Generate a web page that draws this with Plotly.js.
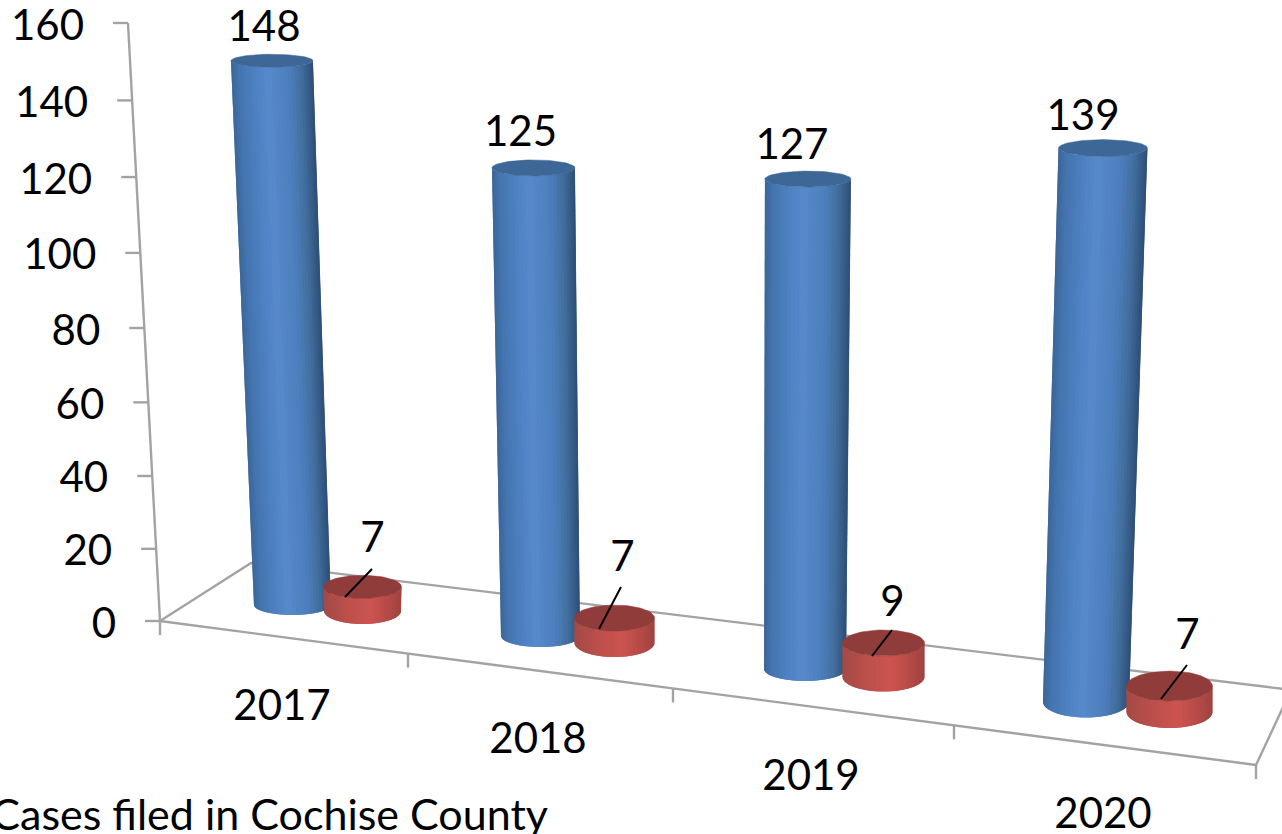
<!DOCTYPE html>
<html><head><meta charset="utf-8">
<script src="https://cdn.plot.ly/plotly-3.0.1.min.js"></script>
<style>html,body{margin:0;padding:0;background:#fff;overflow:hidden}#chart{width:1282px;height:834px}</style>
</head><body><div id="chart"></div>
<script>
// ---- data ----
const categories = ['2017', '2018', '2019', '2020'];
const seriesBlue = [148, 125, 127, 139];
const seriesRed = [7, 7, 9, 7];
const valueTicks = [0, 20, 40, 60, 80, 100, 120, 140, 160];
const chartTitle = 'Cases filed in Cochise County';

// ---- perspective geometry (pixels), separate from the data ----
const FONT = 'Lato, "Open Sans", sans-serif';
const FS = 42;
const wallBase = [160, 621], wallTop = [128, 23];
const floorFrontLeft = [160, 621], floorFrontRight = [1256, 765];
const floorBackLeft = [251, 563], floorBackRight = [1300, 691];
const catTicksX = [160, 408, 673, 954, 1256];
const catLabelPos = [[282, 709], [538, 742], [811, 779], [1103, 817]];
// base centre x,y ; lean ; height scale ; base rx,ry ; top rx,ry
const blueGeom = [
  {x:292.5,y:605,lean:-0.0377,k:0.987,r0:38.5,ry0:10,r1:41,ry1:6.5},
  {x:540.5,y:636,lean:-0.015,k:1.011,r0:39.5,ry0:11,r1:41.5,ry1:8},
  {x:805,y:669,lean:0.006,k:1.041,r0:41,ry0:12,r1:43,ry1:8},
  {x:1086,y:702,lean:0.0307,k:1.072,r0:43,ry0:15.5,r1:44.5,ry1:8.5}
];
const redGeom = [
  {x:362.5,y:611,lean:0,k:0.96,r0:38.5,ry0:13,r1:39,ry1:11.5},
  {x:614.5,y:643,lean:0,k:0.99,r0:40,ry0:14,r1:40,ry1:13},
  {x:883.5,y:677,lean:0,k:1.05,r0:41,ry0:14.5,r1:41,ry1:13},
  {x:1169.5,y:712,lean:0,k:1.03,r0:43,ry0:16,r1:43,ry1:15}
];
const blueLabelOff = [[-8,-30],[-13,-32],[-16,-31],[-20,-29]];
const redLabelOff = [[10,-45],[8,-58],[9,-38],[18,-48]];
const leaders = [[[372,569],[345,597]],[[621,587],[599,629]],[[892,630],[872,656]],[[1187,665],[1161,699]]];
const blueRamp = [[0,[59,102,152]],[.1,[68,117,176]],[.3,[79,130,196]],[.45,[87,137,203]],[.7,[77,127,189]],[.85,[66,110,158]],[1,[45,78,118]]];
const redRamp = [[0,[164,74,70]],[.3,[188,79,75]],[.6,[204,84,80]],[.8,[184,75,72]],[1,[158,68,65]]];
const blueTop = '#3d6796', redTop = '#8f3c3a', axisGrey = '#a3a3a3';

// axis perspective: pixels of height for a value
const sA = 3.59, sB = -0.000246;
const heightOf = v => sA * v / (1 + sB * v);
const wallAt = v => {
  const t = heightOf(v) / heightOf(160);
  return [wallBase[0] + (wallTop[0] - wallBase[0]) * t, wallBase[1] + (wallTop[1] - wallBase[1]) * t];
};
const ramp = (stops, u) => {
  for (let i = 1; i < stops.length; i++) if (u <= stops[i][0]) {
    const a = stops[i-1], b = stops[i], t = (u - a[0]) / (b[0] - a[0]);
    return 'rgb(' + a[1].map((c, j) => Math.round(c + (b[1][j] - c) * t)).join(',') + ')';
  }
  return 'rgb(' + stops[stops.length-1][1].join(',') + ')';
};

const traces = [];
function polyline(segments, color, width) {
  const x = [], y = [];
  segments.forEach(s => { s.forEach(p => { x.push(p[0]); y.push(p[1]); }); x.push(null); y.push(null); });
  traces.push({type:'scatter', mode:'lines', x, y, line:{color, width}, hoverinfo:'skip', showlegend:false});
}
function cylinder(value, g, stops, topColor) {
  const h = heightOf(value) * g.k;
  const tx = g.x + h * g.lean, ty = g.y - h;
  const N = 32;
  // painted right to left: each strip overlaps the next so no seam shows
  for (let j = 0; j < N; j++) {
    const a = Math.PI * j / N, b = Math.PI * Math.min(j + 2, N) / N;
    const m = Math.PI * (j + 0.5) / N;
    const x = [g.x + g.r0*Math.cos(a), g.x + g.r0*Math.cos((a+b)/2), g.x + g.r0*Math.cos(b), tx + g.r1*Math.cos(b), tx + g.r1*Math.cos((a+b)/2), tx + g.r1*Math.cos(a)];
    const y = [g.y + g.ry0*Math.sin(a), g.y + g.ry0*Math.sin((a+b)/2), g.y + g.ry0*Math.sin(b), ty + g.ry1*Math.sin(b), ty + g.ry1*Math.sin((a+b)/2), ty + g.ry1*Math.sin(a)];
    const u = (1 - Math.cos(m)) / 2;
    const c = ramp(stops, 1 - (1 - u));
    traces.push({type:'scatter', mode:'lines', x:x.concat(x[0]), y:y.concat(y[0]), fill:'toself', fillcolor:ramp(stops, 1 - u),
      line:{color:c, width:0}, hoverinfo:'skip', showlegend:false});
  }
  const ex = [], ey = [];
  for (let j = 0; j <= 72; j++) {
    const a = 2 * Math.PI * j / 72;
    ex.push(tx + g.r1*Math.cos(a)); ey.push(ty + g.ry1*Math.sin(a));
  }
  traces.push({type:'scatter', mode:'lines', x:ex, y:ey, fill:'toself', fillcolor:topColor,
    line:{color:topColor, width:0.5}, hoverinfo:'skip', showlegend:false});
  return [tx, ty];
}

// floor and walls
const frontAt = x => floorFrontLeft[1] + (floorFrontRight[1]-floorFrontLeft[1]) * (x-floorFrontLeft[0]) / (floorFrontRight[0]-floorFrontLeft[0]);
polyline([
  [wallTop, wallBase],
  [floorFrontLeft, floorFrontRight],
  [floorFrontLeft, floorBackLeft, floorBackRight],
  [floorFrontRight, [1300, 671]],
].concat(valueTicks.map(v => { const p = wallAt(v); return [[p[0]-15, p[1]], p]; }))
 .concat(catTicksX.map(x => [[x, frontAt(x)], [x, frontAt(x)+14]])), axisGrey, 2.4);

// cylinders
const blueTops = seriesBlue.map((v, i) => cylinder(v, blueGeom[i], blueRamp, blueTop));
const redTops = seriesRed.map((v, i) => cylinder(v, redGeom[i], redRamp, redTop));

// leader lines
polyline(leaders, '#000', 2);

const textStyle = {family:FONT, size:FS, color:'#000'};
// value tick labels
traces.push({type:'scatter', mode:'text', x:valueTicks.map(v => wallAt(v)[0]-44), y:valueTicks.map(v => wallAt(v)[1]+6),
  text:valueTicks.map(String), textposition:'middle left', textfont:textStyle, cliponaxis:false, hoverinfo:'skip', showlegend:false});
// category labels
traces.push({type:'scatter', mode:'text', x:catLabelPos.map(p => p[0]), y:catLabelPos.map(p => p[1]),
  text:categories, textposition:'middle center', textfont:textStyle, cliponaxis:false, hoverinfo:'skip', showlegend:false});
// data labels
traces.push({type:'scatter', mode:'text',
  x:blueTops.map((p,i) => p[0]+blueLabelOff[i][0]).concat(redTops.map((p,i) => p[0]+redLabelOff[i][0])),
  y:blueTops.map((p,i) => p[1]+blueLabelOff[i][1]).concat(redTops.map((p,i) => p[1]+redLabelOff[i][1])),
  text:seriesBlue.concat(seriesRed).map(String), textposition:'middle center', textfont:textStyle, cliponaxis:false, hoverinfo:'skip', showlegend:false});

const layout = {
  width:1282, height:834, margin:{l:0,r:0,t:0,b:0,pad:0},
  paper_bgcolor:'#fff', plot_bgcolor:'#fff', showlegend:false,
  xaxis:{visible:false, range:[0,1282], fixedrange:true},
  yaxis:{visible:false, range:[834,0], fixedrange:true},
  title:{text:chartTitle, x:548/1282, xanchor:'right', xref:'paper', y:1-815/834, yanchor:'middle', yref:'container',
    font:{family:FONT, size:43, color:'#000'}, automargin:false}
};
Plotly.newPlot('chart', traces, layout, {displayModeBar:false, staticPlot:true});
</script></body></html>
